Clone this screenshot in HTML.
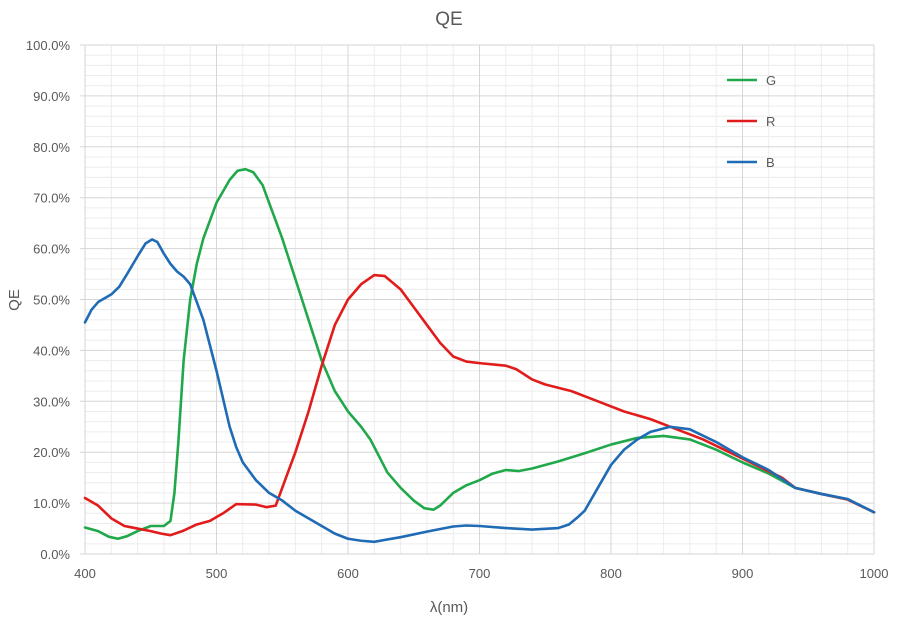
<!DOCTYPE html>
<html><head><meta charset="utf-8"><style>body{margin:0;background:#fff}svg{display:block}text{font-family:"Liberation Sans",sans-serif;fill:#595959}</style></head><body>
<svg width="898" height="618" viewBox="0 0 898 618">
<rect width="898" height="618" fill="#fff"/>
<g id="minor" stroke="#ececec" stroke-width="1"></g>
<g id="major" stroke="#d6d6d6" stroke-width="1"></g>
<g id="labels" font-size="13" ></g>
<text x="449" y="25" font-size="19" text-anchor="middle">QE</text>
<text x="449" y="612" font-size="15" text-anchor="middle">λ(nm)</text>
<text transform="translate(19,300) rotate(-90)" font-size="15" text-anchor="middle">QE</text>
<g transform="translate(85,554) scale(1.315,-5.09) translate(-400,0)" fill="none" stroke-width="2.6" stroke-linejoin="round" stroke-linecap="round">
<polyline vector-effect="non-scaling-stroke" stroke="#20a84b" points="400,5.2 410,4.5 418,3.4 425,3 432,3.5 440,4.5 450,5.5 460,5.5 465,6.5 468,12 471,22 475,38 480,50 485,57 490,62 500,69 510,73.5 516,75.3 522,75.6 528,75 535,72.5 540,69 550,62 560,54 570,46 580,38 590,32 600,28 610,25 617,22.5 625,18.5 630,16 640,13 650,10.5 658,9 665,8.7 670,9.5 680,12 690,13.5 700,14.5 710,15.8 720,16.5 730,16.3 740,16.8 760,18.2 780,19.8 800,21.5 820,22.8 840,23.2 860,22.5 880,20.5 900,18 920,15.8 940,13 960,11.8 980,10.7 1000,8.2"/>
<polyline vector-effect="non-scaling-stroke" stroke="#e21b1b" points="400,11 410,9.5 420,7 430,5.5 450,4.5 458,4 465,3.7 475,4.6 485,5.8 495,6.5 505,8 515,9.8 530,9.7 538,9.2 545,9.5 550,13 560,20 570,28 580,37 590,45 600,50 610,53 620,54.8 628,54.6 640,52 650,48.5 660,45 670,41.5 680,38.8 690,37.8 700,37.5 720,37 728,36.3 740,34.3 750,33.3 770,32 790,30 810,28 830,26.5 850,24.5 870,22.5 890,20 910,17.5 930,15 940,13 960,11.8 980,10.7 1000,8.2"/>
<polyline vector-effect="non-scaling-stroke" stroke="#1f6bb5" points="400,45.5 405,48 410,49.5 420,51 426,52.5 432,55 440,58.5 446,61 451,61.8 455,61.3 460,59 465,57 470,55.5 475,54.5 480,53 490,46 500,36 510,25 515,21 520,18 530,14.5 540,12 550,10.5 560,8.5 570,7 580,5.5 590,4 600,3 610,2.6 620,2.4 640,3.3 660,4.4 680,5.4 690,5.6 700,5.5 720,5.1 740,4.8 760,5.1 768,5.8 775,7.3 780,8.5 790,13 800,17.5 810,20.5 820,22.5 830,24 845,25 860,24.5 880,22 900,19 920,16.5 940,13 960,11.8 980,10.8 1000,8.2"/>
</g>
<g stroke-width="2.6"><line x1="727" y1="80" x2="757" y2="80" stroke="#20a84b"/><line x1="727" y1="121" x2="757" y2="121" stroke="#e21b1b"/><line x1="727" y1="162" x2="757" y2="162" stroke="#1f6bb5"/></g>
<g font-size="13"><text x="766" y="85">G</text><text x="766" y="126">R</text><text x="766" y="167">B</text></g>
<script>
var X=function(n){return 85+(n-400)*1.315},Y=function(p){return 554-p*5.09};
var ns="http://www.w3.org/2000/svg";
function ln(g,x1,y1,x2,y2){var l=document.createElementNS(ns,"line");l.setAttribute("x1",x1);l.setAttribute("y1",y1);l.setAttribute("x2",x2);l.setAttribute("y2",y2);document.getElementById(g).appendChild(l);}
function tx(x,y,s,a){var t=document.createElementNS(ns,"text");t.setAttribute("x",x);t.setAttribute("y",y);t.setAttribute("text-anchor",a);t.textContent=s;document.getElementById("labels").appendChild(t);}
for(var n=400;n<=1000;n+=20){if(n%100)ln("minor",X(n),Y(0),X(n),Y(100));}
for(var p=0;p<=100;p+=2){if(p%10)ln("minor",X(400),Y(p),X(1000),Y(p));}
for(var n=400;n<=1000;n+=100){ln("major",X(n),Y(0),X(n),Y(100)+0);tx(X(n),578,n,"middle");}
for(var p=0;p<=100;p+=10){ln("major",X(400)-5,Y(p),X(1000),Y(p));tx(70,Y(p)+5,p.toFixed(1)+"%","end");}
</script>
</svg>
</body></html>
